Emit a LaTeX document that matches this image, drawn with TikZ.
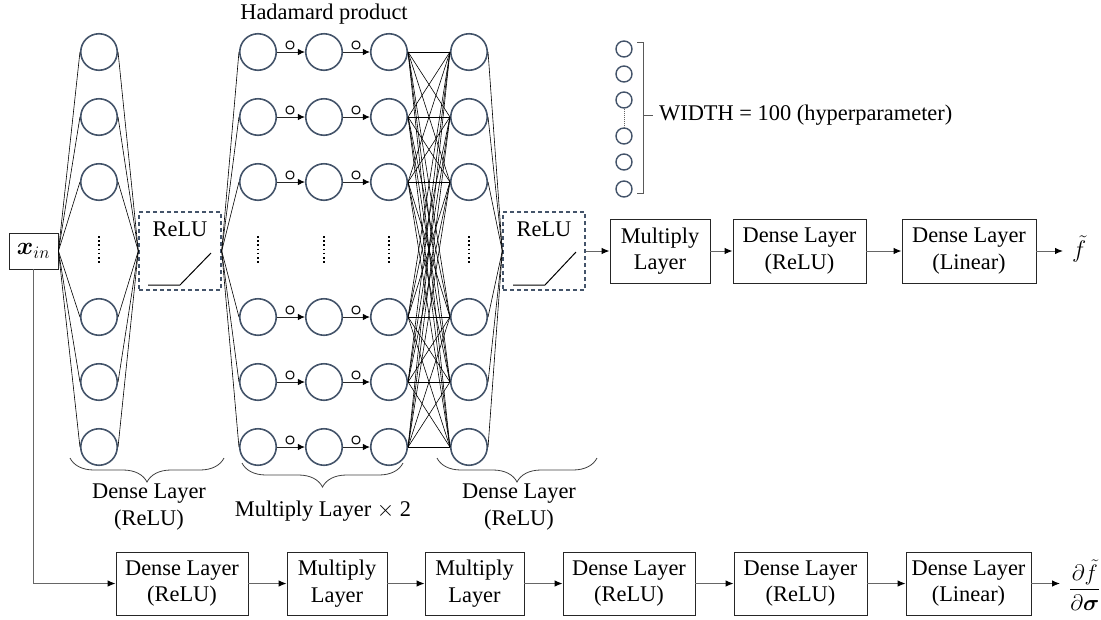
\RequirePackage{fix-cm}
\documentclass[tikz,border=0pt]{standalone}
\usepackage{amsmath,amssymb}
\usepackage{fontspec}
\setmainfont{Liberation Serif}
\usetikzlibrary{arrows.meta,decorations.pathreplacing}
\definecolor{nodeblue}{RGB}{68,84,106}
\begin{document}
\begin{tikzpicture}[x=1pt,y=-1pt,
  neuron/.style={circle,draw=nodeblue,line width=1.6pt,minimum size=36.5pt,inner sep=0pt},
  smallneuron/.style={circle,draw=nodeblue,line width=1.4pt,minimum size=16pt,inner sep=0pt},
  conn/.style={line width=0.6pt,draw=black},
  box/.style={draw=black!85,line width=0.9pt,align=center,inner sep=0pt,font=\fontsize{22.4}{26.5}\selectfont},
  flow/.style={draw=black!60,line width=1pt,-{Latex[length=8pt,width=6.5pt,color=black]}},
  relubox/.style={draw=nodeblue,dash pattern=on 4pt off 3pt,line width=1.4pt,minimum width=82pt,minimum height=78pt,inner sep=0pt},
  lbl/.style={align=center,font=\fontsize{22.4}{26.5}\selectfont},
  vdots/.style={line width=1.7pt,dash pattern=on 1.6pt off 2.6pt},
  brc/.style={decorate,decoration={brace,amplitude=24pt},draw=black!75,line width=0.8pt},
  had/.style={draw=black!85,line width=1pt,-{Latex[length=7pt,width=6.5pt,color=black]}},
  hadsym/.style={inner sep=0pt,font=\fontsize{20}{20}\selectfont},
]
\useasboundingbox (0,0) rectangle (1101,619);

% title
\node[lbl] (had) at (324,14) {Hadamard product};

% neurons
\foreach \c/\x in {a/99,b/258,c/324,d/389,e/469}{
  \foreach \y [count=\i] in {52,117,182,317,382,447}{
    \node[neuron] (\c\i) at (\x,\y) {};
  }
  \draw[vdots] (\x,236) -- (\x,264);
}

% input
\node[draw=black!85,line width=0.9pt,minimum width=49pt,minimum height=36pt,inner sep=0pt,font=\fontsize{25}{25}\selectfont] (xin) at (33.5,251) {$\boldsymbol{x}_{in}$};

% ReLU boxes
\node[relubox] (r1) at (180,251) {};
\node[lbl] (r1t) at (180,229) {ReLU};
\draw[line width=1pt] (148,285) -- (180,285) -- (211,253);
\node[relubox] (r2) at (544,251) {};
\node[lbl] (r2t) at (544,229) {ReLU};
\draw[line width=1pt] (513,285) -- (545,285) -- (576,252);

% connections
\foreach \i/\y in {1/52,2/117,3/182,4/317,5/382,6/447}{
  \draw[conn] (xin.east) -- (a\i.west);
  \draw[conn] (a\i.east) -- (r1.west);
  \draw[conn] (r1.east) -- (b\i.west);
  \draw[had] (b\i.east) -- (c\i.west);
  \draw[had] (c\i.east) -- (d\i.west);
  \node[hadsym] (hb\i) at (290,\y-6) {$\boldsymbol{\circ}$};
  \node[hadsym] (hc\i) at (356,\y-6) {$\boldsymbol{\circ}$};
  \foreach \j in {1,...,6}{
    \draw[conn] (d\i.east) -- (e\j.west);
  }
  \draw[conn] (e\i.east) -- (r2.west);
}

% braces and labels
\draw[brc] (224,458) -- (70,458);
\node[lbl] (lab1) at (149,507) {Dense Layer\\(ReLU)};
\draw[brc] (403,463) -- (242,463);
\node[lbl] (lab2) at (323,511) {Multiply Layer $\times$ 2};
\draw[brc] (597,458) -- (437,458);
\node[lbl] (lab3) at (519,507) {Dense Layer\\(ReLU)};

% legend
\foreach \y [count=\i] in {49,74,100,136,162,189}{
  \node[smallneuron] (w\i) at (624,\y) {};
}
\draw[black!60,line width=0.8pt,dash pattern=on 1pt off 1pt] (w3.south) -- (w4.north);
\draw[black!65,line width=0.9pt] (637,42) -- (643,42) -- (643,193) -- (637,193);
\draw[black!65,line width=0.9pt] (643,115) -- (653,115);
\node[lbl,anchor=west,inner sep=0pt] (wtxt) at (659,115) {WIDTH = 100 (hyperparameter)};

% top chain
\node[box,minimum width=100pt,minimum height=64pt] (m1) at (660,251) {Multiply\\Layer};
\node[box,minimum width=133pt,minimum height=64pt] (d1) at (799.5,251) {Dense Layer\\(ReLU)};
\node[box,minimum width=134pt,minimum height=64pt] (l1) at (969,251) {Dense Layer\\(Linear)};
\node[anchor=west,inner sep=0pt,font=\fontsize{24}{28}\selectfont] (ft) at (1072,249) {$\tilde{f}$};
\draw[flow] (r2.east) -- (m1.west);
\draw[flow] (m1.east) -- (d1.west);
\draw[flow] (d1.east) -- (l1.west);
\draw[flow,shorten >=9pt] (l1.east) -- (l1.east -| ft.west);

% bottom chain
\node[box,minimum width=132pt,minimum height=63pt] (p1) at (182,583.5) {Dense Layer\\(ReLU)};
\node[box,minimum width=100pt,minimum height=63pt] (p2) at (337,583.5) {Multiply\\Layer};
\node[box,minimum width=99pt,minimum height=63pt] (p3) at (474.5,583.5) {Multiply\\Layer};
\node[box,minimum width=132pt,minimum height=63pt] (p4) at (629,583.5) {Dense Layer\\(ReLU)};
\node[box,minimum width=133pt,minimum height=63pt] (p5) at (800.5,583.5) {Dense Layer\\(ReLU)};
\node[box,minimum width=125pt,minimum height=63pt] (p6) at (968.5,583.5) {Dense Layer\\(Linear)};
\node[anchor=west,inner sep=0pt,font=\fontsize{22.4}{26.5}\selectfont] (fr) at (1069,585) {$\dfrac{\partial\tilde{f}}{\partial\boldsymbol{\sigma}}$};
\draw[flow] (xin.south) |- (p1.west);
\draw[flow] (p1.east) -- (p2.west);
\draw[flow] (p2.east) -- (p3.west);
\draw[flow] (p3.east) -- (p4.west);
\draw[flow] (p4.east) -- (p5.west);
\draw[flow] (p5.east) -- (p6.west);
\draw[flow,shorten >=9pt] (p6.east) -- (p6.east -| fr.west);
\end{tikzpicture}
\end{document}
